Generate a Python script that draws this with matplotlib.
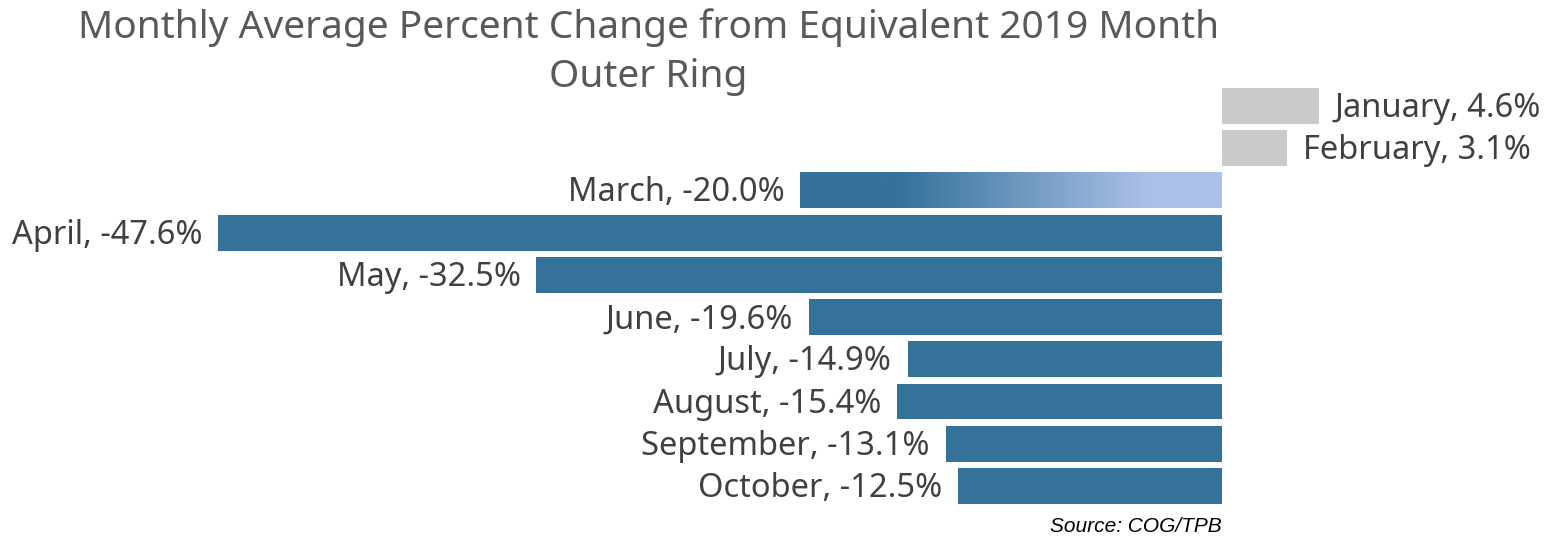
import matplotlib.pyplot as plt
import matplotlib.colors as mcolors
import numpy as np

months = ["January", "February", "March", "April", "May", "June",
          "July", "August", "September", "October"]
pct_change = [4.6, 3.1, -20.0, -47.6, -32.5, -19.6, -14.9, -15.4, -13.1, -12.5]

blue = "#34729A"
light = "#ADC1E8"
grey = "#CACACA"
txt = "#404040"

plt.rcParams["font.family"] = ["Noto Sans", "DejaVu Sans"]

fig = plt.figure(figsize=(15.58, 5.38), dpi=100)
ax = fig.add_axes([0, 0, 1, 1])
ppu = 1004 / 47.6
pitch = 42.22
ax.axis("off")

h = 0.85
dy = 0.06
for i, (m, v) in enumerate(zip(months, pct_change)):
    lab = f"{m}, {v:.1f}%"
    if v > 0:
        ax.barh(i, v, height=h, color=grey)
        ax.text(v + 0.75, i + dy, lab, ha="left", va="center", fontsize=23.5, color=txt)
    else:
        if m == "March":
            # gradient fill for the highlighted month
            xs = np.linspace(v, 0, 400)
            frac = np.clip((xs + 15.3) / 12.0, 0, 1)
            cmap = mcolors.LinearSegmentedColormap.from_list("g", [blue, light])
            ax.imshow(frac[None, :], cmap=cmap, vmin=0, vmax=1, aspect="auto",
                      extent=[v, 0, i + h / 2, i - h / 2], interpolation="bilinear")
        else:
            ax.barh(i, v, height=h, color=blue)
        ax.text(v - 0.75, i + dy, lab, ha="right", va="center", fontsize=23.5, color=txt)

ax.set_xlim(-1222 / ppu, (1558 - 1222) / ppu)
ax.set_ylim(9 + 52 / pitch, -106 / pitch)

fig.text(0.416, 0.985, "Monthly Average Percent Change from Equivalent 2019 Month\nOuter Ring",
         ha="center", va="top", fontsize=28, color="#595959", linespacing=1.4)
fig.text(1222 / 1558, 1 - 526 / 538, "Source: COG/TPB", ha="right", va="center",
         fontsize=15, style="italic", family="Liberation Sans", color="black")

fig.savefig("out.png", dpi=100)
